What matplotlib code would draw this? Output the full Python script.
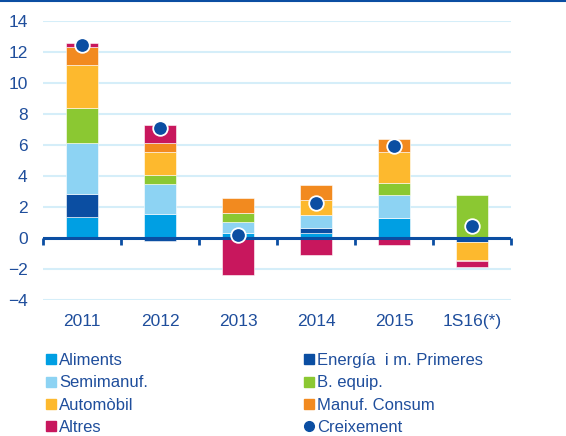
import numpy as np
from matplotlib import pyplot as plt
from matplotlib.lines import Line2D

plt.rcParams['font.family'] = ['Liberation Sans', 'DejaVu Sans']

years = ['2011', '2012', '2013', '2014', '2015', '1S16(*)']

# contributions per sector (percentage points)
aliments = [1.32, 1.55, 0.32, 0.28, 1.27, 0.0]
energia = [1.48, -0.19, 0.0, 0.37, 0.0, -0.28]
semimanuf = [3.33, 1.89, 0.71, 0.79, 1.50, 0.0]
bequip = [2.26, 0.60, 0.54, 0.0, 0.78, 2.73]
automobil = [2.75, 1.50, 0.0, 0.99, 2.00, -1.16]
manuf = [1.18, 0.60, 1.01, 0.99, 0.84, -0.06]
altres = [0.22, 1.16, -2.39, -1.14, -0.49, -0.41]
creixement = [12.45, 7.08, 0.17, 2.26, 5.92, 0.77]

names = ['Aliments', 'Energía  i m. Primeres', 'Semimanuf.', 'B. equip.',
         'Automòbil', 'Manuf. Consum', 'Altres']
colors = ['#009FE3', '#0B4EA2', '#8DD3F3', '#8BC832',
          '#FDB92E', '#F28A1F', '#C8175D']
text_col = '#1F4E9C'
dark = '#0B4EA2'

series = [aliments, energia, semimanuf, bequip, automobil, manuf, altres]

fig = plt.figure(figsize=(5.66, 4.36), dpi=100)
ax = fig.add_axes([0.076, 0.3126, 0.827, 0.6399])

x = np.arange(len(years))
pos_base = np.zeros(len(years))
neg_base = np.zeros(len(years))
handles = {}
for vals, name, col in zip(series, names, colors):
    v = np.array(vals)
    bottom = np.where(v >= 0, pos_base, neg_base)
    ax.bar(x, v, 0.42, bottom=bottom, color=col, edgecolor='white',
           linewidth=0.4, zorder=3)
    handles[name] = Line2D([], [], marker='s', ls='', color=col, markersize=7)
    pos_base += np.where(v >= 0, v, 0)
    neg_base += np.where(v < 0, v, 0)

ax.axhline(0, color=dark, linewidth=2.2, zorder=4)
ax.plot(x, creixement, 'o', color=dark, markersize=10.5, markeredgecolor='white',
        markeredgewidth=1.3, zorder=5)

ax.set_xlim(-0.5, 5.5)
ax.set_ylim(-4, 14)
ax.set_yticks(range(-4, 15, 2))
ax.set_xticks(x)
ax.set_xticklabels(years)
ax.tick_params(axis='both', length=0, labelsize=12.5, labelcolor=text_col)
ax.tick_params(axis='x', pad=10)
ax.tick_params(axis='y', pad=11)
for s in ax.spines.values():
    s.set_visible(False)
ax.grid(axis='y', color='#D5EEF9', linewidth=1.5, zorder=0)
ax.set_axisbelow(True)

# tick marks on the zero line, between categories
zero = ax.secondary_xaxis(4 / 18)
zero.set_xticks(np.arange(-0.5, 6, 1))
zero.tick_params(length=5, width=2, color=dark, labelbottom=False,
                 labeltop=False, direction='out')
zero.spines['bottom'].set_visible(False)

# top border
fig.add_artist(Line2D([0, 1], [0.998, 0.998], transform=fig.transFigure,
                      color=dark, linewidth=1.5))

order = ['Aliments', 'Semimanuf.', 'Automòbil', 'Altres',
         'Energía  i m. Primeres', 'B. equip.', 'Manuf. Consum']
h = [handles[n] for n in order]
h.append(Line2D([], [], marker='o', ls='', color=dark, markersize=7))
labels = order + ['Creixement']
leg = fig.legend(h, labels, ncol=2, loc='upper left',
                 bbox_to_anchor=(0.081, 0.19), frameon=False, fontsize=12,
                 handlelength=0.6, handletextpad=0.2, columnspacing=9.35,
                 labelspacing=0.44, borderaxespad=0, borderpad=0)
for t in leg.get_texts():
    t.set_color(text_col)

fig.savefig('out.png', dpi=100)
